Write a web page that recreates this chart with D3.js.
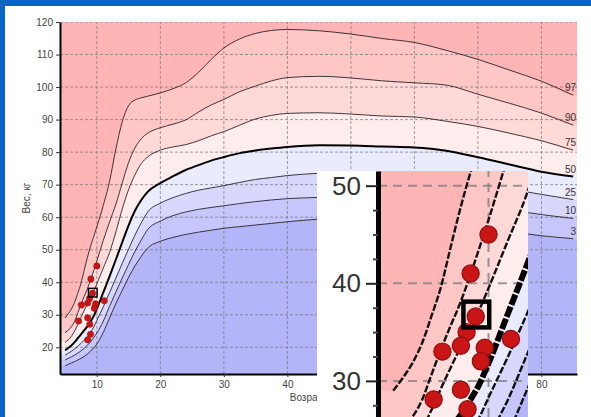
<!DOCTYPE html>
<html><head><meta charset="utf-8">
<script src="https://cdn.jsdelivr.net/npm/d3@7"></script>
<style>html,body{margin:0;padding:0;background:#0866c6;overflow:hidden}svg{display:block}</style>
</head><body>
<svg id="c" width="591" height="417"></svg>
<script>
// ---- data ----
const ages = [5, 5.5, 6, 6.5, 7, 7.5, 8, 8.5, 9, 9.5, 10, 11, 12, 13, 14, 15, 16, 17, 18, 20, 22, 24, 26, 28, 30, 32.5, 35, 37.5, 40, 45, 50, 55, 60, 65, 70, 75, 80, 85];
const p97 = [29.0, 30.3, 31.8, 33.8, 36.6, 39.6, 43.6, 47.5, 51.0, 54.0, 57.0, 63.5, 71.0, 81.0, 89.3, 94.3, 96.0, 96.7, 97.2, 98.2, 99.5, 101.3, 104.5, 108.5, 112.0, 114.8, 116.5, 117.4, 117.7, 117.3, 116.3, 114.9, 113.7, 111.3, 108.5, 105.2, 101.8, 97.5];
const p90 = [24.5, 25.3, 26.3, 28.0, 30.6, 33.2, 35.6, 37.9, 40.6, 43.5, 46.5, 52.8, 58.5, 64.0, 70.5, 76.8, 81.3, 84.1, 85.8, 87.5, 88.6, 89.9, 92.3, 94.5, 96.2, 98.6, 100.3, 101.9, 102.9, 103.3, 102.8, 101.9, 101.3, 100.6, 97.8, 95.0, 92.0, 88.3];
const p75 = [21.6, 22.3, 23.4, 25.0, 27.0, 29.2, 31.3, 33.3, 35.1, 37.2, 39.5, 44.3, 49.1, 55.5, 62.5, 68.5, 73.0, 76.5, 78.5, 80.6, 81.6, 82.3, 83.5, 85.0, 86.3, 88.3, 90.2, 91.3, 91.9, 92.1, 91.7, 91.1, 90.8, 89.5, 87.9, 85.8, 83.5, 80.6];
const p50 = [19.1, 19.8, 20.6, 21.6, 22.8, 24.0, 25.2, 26.4, 27.9, 29.6, 31.8, 36.8, 41.8, 47.0, 52.3, 57.5, 62.0, 65.3, 67.8, 70.5, 72.6, 74.5, 76.0, 77.4, 78.5, 79.7, 80.5, 81.1, 81.6, 82.1, 82.0, 81.7, 81.4, 80.4, 78.4, 76.2, 74.0, 72.5];
const p25 = [17.6, 18.2, 18.8, 19.5, 20.3, 21.2, 22.2, 23.3, 24.6, 26.2, 28.3, 32.4, 36.8, 41.3, 45.8, 50.2, 54.5, 58.3, 61.6, 64.3, 66.0, 67.3, 68.3, 69.0, 69.7, 70.7, 71.6, 72.2, 72.8, 73.5, 73.9, 73.9, 73.2, 72.0, 70.5, 68.7, 67.0, 65.4];
const p10 = [16.1, 16.6, 17.1, 17.6, 18.2, 18.9, 19.7, 20.6, 21.7, 23.0, 24.4, 28.0, 32.6, 37.0, 41.3, 45.5, 49.5, 53.0, 56.2, 58.8, 60.5, 61.6, 62.4, 63.0, 63.5, 64.2, 64.8, 65.3, 65.7, 66.1, 66.5, 66.5, 66.0, 65.0, 63.8, 62.2, 60.8, 59.6];
const p3  = [14.3, 14.8, 15.2, 15.6, 16.1, 16.6, 17.2, 17.9, 18.8, 19.8, 21.0, 24.5, 29.0, 33.5, 37.5, 41.5, 45.0, 48.0, 50.5, 52.6, 53.8, 54.7, 55.4, 56.0, 56.6, 57.1, 57.6, 58.1, 58.6, 59.4, 59.8, 59.8, 59.2, 58.2, 57.0, 55.6, 54.3, 53.4];
const percentileLabels = ['97', '90', '75', '50', '25', '10', '3'];
const dotAges    = [10.0, 9.06, 8.85, 8.55, 7.58, 9.8, 9.6, 11.18, 7.12, 8.55, 8.9, 9.0, 8.55, 9.33];
const dotWeights = [45.0, 41.0, 35.0, 33.6, 33.0, 33.4, 32.0, 34.3, 28.1, 29.1, 27.1, 24.0, 22.3, 36.6];
const markAge = 9.36, markWeight = 36.8;
const xTicks = [10, 20, 30, 40, 50, 60, 70, 80];
const yTicks = [20, 30, 40, 50, 60, 70, 80, 90, 100, 110, 120];
const insetTicks = [30, 40, 50];
const insetMinor = [27.5, 32.5, 35, 37.5, 42.5, 45, 47.5];
const xTitle = 'Возраст, лет', yTitle = 'Вес, кг';

// ---- drawing ----
const FONT = '"Liberation Sans", Arial, sans-serif';
const svg = d3.select('#c');
svg.append('rect').attr('width', 591).attr('height', 417).attr('fill', '#0866c6');
svg.append('rect').attr('x', 5).attr('y', 6).attr('width', 586).attr('height', 411).attr('fill', '#ffffff');

const curves = [p97, p90, p75, p50, p25, p10, p3];
const bandColors = ['#ffb5b5', '#ffc6c6', '#ffd8d8', '#ffeded', '#ebebff', '#d8d8ff', '#c6c6fd', '#b4b4f8'];
const fullDomain = [4.2, 85.6];

const x = d3.scaleLinear().domain(fullDomain).range([60, 577]);
const y = d3.scaleLinear().domain([11.8, 120]).range([374, 22]);

// inset geometry (3x zoom of the lower-left corner)
const INSET = {left: 317, axis: 378, right: 528, top: 171, bottom: 417};

function panel(g, xs, ys, k, id, gx, gy, dash, dotR) {
  const [x0, x1] = xs.range(), [y0, y1] = ys.range();
  g.append('clipPath').attr('id', id).append('rect')
    .attr('x', x0).attr('y', y1).attr('width', x1 - x0).attr('height', y0 - y1);
  const p = g.append('g').attr('clip-path', `url(#${id})`);
  p.append('rect').attr('x', x0).attr('y', y1).attr('width', x1 - x0).attr('height', y0 - y1).attr('fill', bandColors[0]);
  curves.forEach((c, i) => {
    const pts = [[fullDomain[0], c[0]]].concat(ages.map((a, j) => [a, c[j]]), [[fullDomain[1], c[c.length - 1]]]);
    p.append('path').datum(pts)
      .attr('fill', bandColors[i + 1])
      .attr('d', d3.area().curve(d3.curveMonotoneX).x(d => xs(d[0])).y0(y0).y1(d => ys(d[1])));
  });
  // grid
  p.selectAll('.gx').data(gx).enter().append('line')
    .attr('x1', d => xs(d)).attr('x2', d => xs(d)).attr('y1', y0).attr('y2', y1)
    .attr('stroke', '#7a7a7a').attr('stroke-opacity', 0.75).attr('stroke-width', k === 1 ? 1 : 2)
    .attr('stroke-dasharray', dash);
  p.selectAll('.gy').data(gy).enter().append('line')
    .attr('y1', d => ys(d)).attr('y2', d => ys(d)).attr('x1', x0).attr('x2', x1)
    .attr('stroke', '#7a7a7a').attr('stroke-opacity', 0.75).attr('stroke-width', k === 1 ? 1 : 2)
    .attr('stroke-dasharray', dash);
  // curves
  curves.forEach((c, i) => {
    const bold = i === 3;
    p.append('path').datum(ages.map((a, j) => [a, c[j]]))
      .attr('fill', 'none')
      .attr('stroke', bold ? '#000' : (k === 1 ? '#2a2228' : '#111'))
      .attr('stroke-width', bold ? 2 * k : (k === 1 ? 0.9 : 2.4))
      .attr('stroke-dasharray', k === 1 ? null : (bold ? '11,2' : '7,2'))
      .attr('d', d3.line().curve(d3.curveMonotoneX).x(d => xs(d[0])).y(d => ys(d[1])));
  });
  // dots
  p.selectAll('.dot').data(dotAges.map((a, j) => [a, dotWeights[j]])).enter().append('circle')
    .attr('cx', d => xs(d[0])).attr('cy', d => ys(d[1])).attr('r', dotR)
    .attr('fill', '#c91515').attr('stroke', '#8e1010').attr('stroke-width', 0.4 * k);
  const s = 8.6 * k;
  p.append('rect').attr('x', xs(markAge) - s / 2).attr('y', ys(markWeight) - s / 2)
    .attr('width', s).attr('height', s).attr('fill', 'none')
    .attr('stroke', '#000').attr('stroke-width', 1.5 * k);
  return p;
}

const main = svg.append('g');
panel(main, x, y, 1, 'clipMain', xTicks, yTicks, '3,2', 3.2);

// percentile labels
curves.forEach((c, i) => {
  main.append('text').attr('x', x(fullDomain[1]) - 1).attr('y', y(c[c.length - 1]) - 4)
    .attr('text-anchor', 'end').attr('font-family', FONT).attr('font-size', 10)
    .attr('fill', '#333').text(percentileLabels[i]);
});

// axes (labels that sit under the inset are not visible in the picture)
const ax = main.append('g').attr('transform', `translate(0,${y.range()[0]})`)
  .call(d3.axisBottom(x).tickValues(xTicks).tickSize(3).tickSizeOuter(0).tickPadding(4)
    .tickFormat(d => (x(d) > INSET.left - 8 && x(d) < INSET.right + 8) ? '' : d));
const ay = main.append('g').attr('transform', `translate(${x.range()[0]},0)`)
  .call(d3.axisLeft(y).tickValues(yTicks).tickSize(4).tickSizeOuter(0).tickPadding(3));
[ax, ay].forEach(a => {
  a.select('.domain').attr('stroke', '#000').attr('stroke-width', 2);
  a.selectAll('.tick line').attr('stroke', '#333');
  a.selectAll('text').attr('font-family', FONT).attr('font-size', 10).attr('fill', '#444');
});
main.append('text').attr('x', (x.range()[0] + x.range()[1]) / 2).attr('y', 401)
  .attr('text-anchor', 'middle').attr('font-family', FONT).attr('font-size', 10).attr('fill', '#444').text(xTitle);
main.append('text').attr('transform', `translate(30,${(y.range()[0] + y.range()[1]) / 2}) rotate(-90)`)
  .attr('text-anchor', 'middle').attr('font-family', FONT).attr('font-size', 10).attr('fill', '#444').text(yTitle);

// ---- inset ----
const kx = 3 * (x(1) - x(0)), ky = 3 * (y(0) - y(1));
const xi = d3.scaleLinear().domain([fullDomain[0], fullDomain[0] + (INSET.right - INSET.axis) / kx]).range([INSET.axis, INSET.right]);
const y50 = INSET.top + 14.7;
const yi = d3.scaleLinear().domain([50 - (INSET.bottom - y50) / ky, 50 + (y50 - INSET.top) / ky]).range([INSET.bottom, INSET.top]);
const inset = svg.append('g');
inset.append('rect').attr('x', INSET.left).attr('y', INSET.top)
  .attr('width', INSET.right - INSET.left).attr('height', INSET.bottom - INSET.top).attr('fill', '#fff');
panel(inset, xi, yi, 3, 'clipInset', [10], insetTicks, '9,6', 8.6);
const iy = inset.append('g').attr('transform', `translate(${INSET.axis},0)`)
  .call(d3.axisLeft(yi).tickValues(insetTicks).tickSize(12).tickSizeOuter(0).tickPadding(5));
iy.select('.domain').attr('stroke', '#000').attr('stroke-width', 5);
iy.selectAll('.tick line').attr('stroke', '#222').attr('stroke-width', 2);
iy.selectAll('text').attr('font-family', FONT).attr('font-size', 26).attr('fill', '#333');
const im = inset.append('g').attr('transform', `translate(${INSET.axis},0)`)
  .call(d3.axisLeft(yi).tickValues(insetMinor).tickSize(5).tickSizeOuter(0).tickFormat(''));
im.select('.domain').remove();
im.selectAll('.tick line').attr('stroke', '#444').attr('stroke-width', 2);
</script>
</body></html>
